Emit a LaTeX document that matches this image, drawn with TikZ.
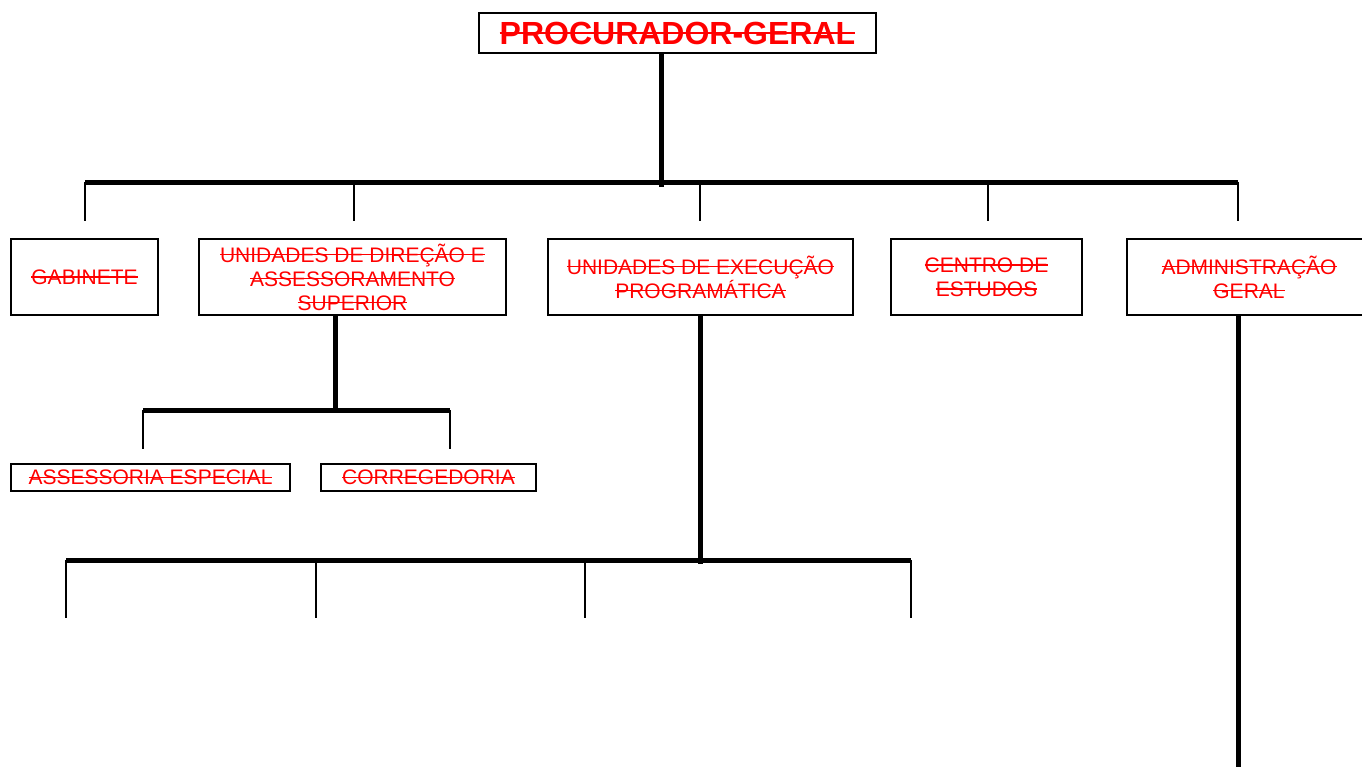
\documentclass[tikz,border=0pt]{standalone}
\usepackage{fontspec}
\setmainfont{Liberation Sans}
\newsavebox\strkbox
\newcommand\strk[1]{\sbox\strkbox{#1}\usebox\strkbox\llap{\rule[0.32em]{\wd\strkbox}{0.06em}}}
\tikzset{
  unit/.style={draw, line width=1pt, text=red, align=center, inner sep=0pt,
    font=\fontsize{10.5}{12}\selectfont, minimum height=38pt},
  small unit/.style={unit, minimum height=13.5pt},
  trunk/.style={line width=2.5pt},
  drop/.style={line width=1pt}
}

\begin{document}
\begin{tikzpicture}[x=0.5pt, y=-0.5pt]
  \useasboundingbox (0,0) rectangle (1362,767);
  % top
  \node[unit, font=\bfseries\fontsize{16}{19}\selectfont, minimum width=198.5pt, minimum height=20pt] (pg) at (677.5,33) {\strk{PROCURADOR-GERAL}};
  % first level
  \node[unit, minimum width=73.5pt] (gab) at (84.5,277) {\strk{GABINETE}};
  \node[unit, minimum width=153.5pt] (udas) at (352.5,277) {\strk{UNIDADES DE DIREÇÃO E}\\\strk{ASSESSORAMENTO}\\\strk{SUPERIOR}};
  \node[unit, minimum width=152.5pt] (uep) at (700.5,277) {\strk{UNIDADES DE EXECUÇÃO}\\\strk{PROGRAMÁTICA}};
  \node[unit, minimum width=95.5pt] (ce) at (986.5,277) {\strk{CENTRO DE}\\\strk{ESTUDOS}};
  \node[unit, minimum width=122pt] (ag) at (1249,277) {\strk{ADMINISTRAÇÃO}\\\strk{GERAL}};
  % second level
  \node[small unit, minimum width=139.5pt] (ae) at (150.5,477.5) {\strk{ASSESSORIA ESPECIAL}};
  \node[small unit, minimum width=107.5pt] (cor) at (428.5,477.5) {\strk{CORREGEDORIA}};

  % connectors from the top
  \coordinate (j1) at (661,187);
  \coordinate (b1a) at (85,182);
  \coordinate (b1b) at (1238,182);
  \draw[trunk] (pg.south -| j1) -- (j1);
  \draw[trunk] (b1a) -- (b1b);
  \foreach \x in {85,354,700,988,1238}
    \draw[drop] (\x,182) -- (\x,221);

  % under UNIDADES DE DIRECAO
  \coordinate (j2) at (335,410);
  \coordinate (b2a) at (143,410);
  \coordinate (b2b) at (450,410);
  \draw[trunk] (udas.south -| j2) -- (j2);
  \draw[trunk] (b2a) -- (b2b);
  \foreach \x in {143,450}
    \draw[drop] (\x,410) -- (\x,449);

  % under UNIDADES DE EXECUCAO
  \coordinate (j3) at (700,564);
  \coordinate (b3a) at (66,560);
  \coordinate (b3b) at (911,560);
  \draw[trunk] (uep.south -| j3) -- (j3);
  \draw[trunk] (b3a) -- (b3b);
  \foreach \x in {66,316,585,911}
    \draw[drop] (\x,560) -- (\x,618);

  % under ADMINISTRACAO GERAL
  \coordinate (j4) at (1238,767);
  \draw[trunk] (ag.south -| j4) -- (j4);
\end{tikzpicture}
\end{document}
